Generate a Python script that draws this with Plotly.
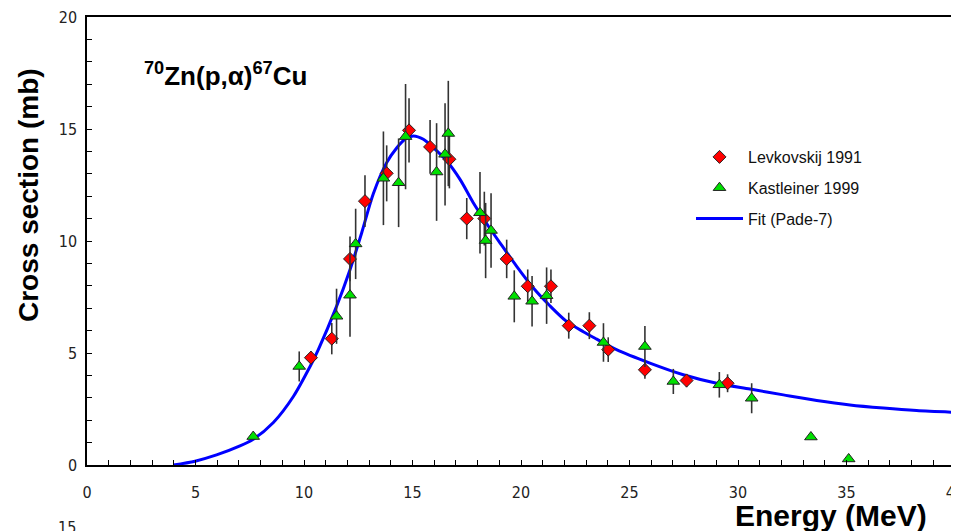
import plotly.graph_objects as go

# Levkovskij 1991 (red diamonds)
lev_E = [10.32, 11.28, 12.12, 12.81, 13.81, 14.84, 15.81, 16.70, 17.50, 18.31,
         19.34, 20.31, 21.38, 22.20, 23.15, 24.02, 25.71, 27.63, 29.52]
lev_s = [4.79, 5.64, 9.20, 11.78, 13.02, 14.94, 14.20, 13.65, 11.00, 11.00,
         9.20, 7.98, 7.98, 6.22, 6.22, 5.15, 4.25, 3.77, 3.65]
lev_err = [0.30, 0.70, 1.00, 1.15, 1.25, 1.43, 1.20, 1.30, 0.92, 1.20,
           0.86, 0.75, 0.75, 0.58, 0.60, 0.55, 0.40, 0.30, 0.40]

# Kastleiner 1999 (green triangles)
kas_E = [7.66, 9.78, 11.50, 12.12, 12.38, 13.66, 14.36, 14.68, 16.11, 16.50,
         16.65, 18.11, 18.37, 18.62, 19.69, 20.51, 21.18, 23.80, 25.71, 27.02,
         29.14, 30.63, 33.36, 35.10]
kas_s = [1.27, 4.40, 6.64, 7.58, 9.87, 12.80, 12.60, 14.66, 13.08, 13.87,
         14.80, 11.26, 10.02, 10.47, 7.53, 7.31, 7.56, 5.47, 5.29, 3.73,
         3.58, 2.98, 1.25, 0.27]
kas_err = [0.0, 0.67, 1.23, 1.86, 1.57, 2.09, 1.98, 2.35, 2.18, 2.28,
           2.35, 1.82, 1.68, 1.66, 1.16, 1.13, 1.26, 0.86, 0.92, 0.56,
           0.57, 0.67, 0.0, 0.0]

# Fit (Pade-7)
fit_E = [3.98, 4.98, 5.97, 7.05, 7.66, 8.59, 9.51, 10.28, 10.66, 11.50, 12.12,
         12.66, 13.19, 13.81, 14.27, 14.65, 15.04, 15.50, 15.96, 16.58, 17.19,
         17.80, 18.50, 19.03, 19.80, 20.57, 21.34, 22.10, 22.87, 23.49, 24.40,
         25.94, 27.48, 29.02, 30.55, 32.09, 33.63, 35.16, 36.70, 38.23, 40.00]
fit_s = [0.00, 0.17, 0.45, 0.85, 1.15, 1.90, 3.06, 4.40, 5.15, 7.08, 8.72,
         10.37, 12.10, 13.50, 14.15, 14.54, 14.69, 14.54, 14.17, 13.57, 12.75,
         11.71, 10.66, 9.92, 8.87, 7.90, 7.10, 6.41, 5.95, 5.62, 5.15,
         4.55, 4.03, 3.65, 3.39, 3.13, 2.88, 2.68, 2.54, 2.43, 2.35]

x_ticks = [0, 5, 10, 15, 20, 25, 30, 35, 40]
y_ticks = [0, 5, 10, 15, 20]

# page body has an 8px offset; figure sized to fill the rest of the window
OFF = 8
W, H = 959 - OFF, 531 - OFF
PL, PR, PT, PB = 87, 955, 17, 465  # plot area in window pixels
L, R, T, B = PL - OFF, W - (PR - OFF), PT - OFF, H - (PB - OFF)

def xp(px):
    return (px - PL) / (PR - PL)

def yp(py):
    return (PB - py) / (PB - PT)

tickfont = dict(family="Liberation Sans Narrow, Arial Narrow, DejaVu Sans Condensed, Liberation Sans",
                size=16, color="#222222")

fig = go.Figure()

fig.add_trace(go.Scatter(
    x=fit_E, y=fit_s, mode="lines", name="Fit (Pade-7)",
    line=dict(color="#0000ff", width=3, shape="spline", smoothing=0.8),
    legendrank=3, legendgroup="c"))

fig.add_trace(go.Scatter(
    x=lev_E, y=lev_s, mode="markers", name="Levkovskij 1991",
    marker=dict(symbol="diamond", size=10, color="#ff0000",
                line=dict(color="#222222", width=1)),
    error_y=dict(type="data", array=lev_err, visible=True, width=0,
                 thickness=1.6, color="#333333"),
    legendrank=1, legendgroup="a"))

fig.add_trace(go.Scatter(
    x=kas_E, y=kas_s, mode="markers", name="Kastleiner 1999",
    marker=dict(symbol="triangle-up", size=11, color="#00e000",
                line=dict(color="#222222", width=1)),
    error_y=dict(type="data", array=kas_err, visible=True, width=0,
                 thickness=1.6, color="#333333"),
    legendrank=2, legendgroup="b"))

fig.update_layout(
    width=W, height=H,
    margin=dict(l=L, r=R, t=T, b=B, autoexpand=False),
    paper_bgcolor="white", plot_bgcolor="white",
    showlegend=True,
    legend=dict(x=xp(691), y=yp(140),
                xanchor="left", yanchor="top",
                bgcolor="rgba(0,0,0,0)", borderwidth=0,
                tracegroupgap=7, itemwidth=47,
                font=dict(family="Liberation Sans, Arial", size=16, color="#111111")),
    xaxis=dict(range=[0, 40], tickvals=x_ticks, ticktext=[str(v) for v in x_ticks],
               showgrid=False, zeroline=False,
               showline=True, linecolor="#000000", linewidth=1.5, mirror=True,
               ticks="inside", ticklen=5, tickcolor="#000000",
               ticklabelstandoff=12, ticklabeloverflow="allow", tickfont=tickfont,
               minor=dict(dtick=1, ticks="inside", ticklen=5, tickcolor="#000000", showgrid=False)),
    yaxis=dict(range=[0, 20], tickvals=y_ticks, ticktext=[str(v) for v in y_ticks],
               showgrid=False, zeroline=False,
               showline=True, linecolor="#000000", linewidth=1.5, mirror=True,
               ticks="inside", ticklen=5, tickcolor="#000000",
               ticklabelstandoff=5, ticklabeloverflow="allow", tickfont=tickfont,
               minor=dict(dtick=1, ticks="inside", ticklen=5, tickcolor="#000000", showgrid=False)),
)

ann_font_b = "Liberation Sans, Arial"
fig.add_annotation(xref="paper", yref="paper", x=xp(142), y=yp(74),
                   xanchor="left", yanchor="middle",
                   text="<b><sup>70</sup>Zn(p,α)<sup>67</sup>Cu</b>", showarrow=False,
                   font=dict(family=ann_font_b, size=26, color="#000000"))
fig.add_annotation(xref="paper", yref="paper", x=xp(28), y=yp(195),
                   xanchor="center", yanchor="middle",
                   text="<b>Cross section (mb)</b>", textangle=-90, showarrow=False,
                   font=dict(family=ann_font_b, size=28, color="#000000"))
fig.add_annotation(xref="paper", yref="paper", x=xp(831), y=yp(515),
                   xanchor="center", yanchor="middle",
                   text="<b>Energy (MeV)</b>", showarrow=False,
                   font=dict(family=ann_font_b, size=30, color="#000000"))
fig.add_annotation(xref="paper", yref="paper", x=xp(67), y=yp(516),
                   xanchor="center", yanchor="top",
                   text="15", showarrow=False,
                   font=tickfont)

fig.write_html("out.html")
